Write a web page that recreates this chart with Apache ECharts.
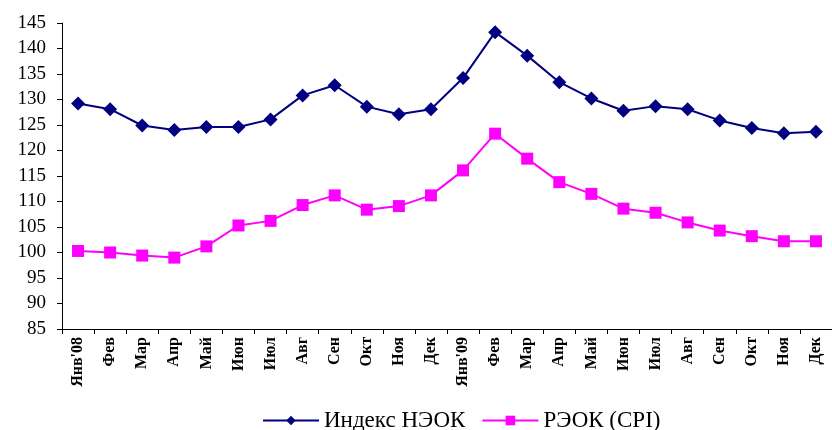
<!DOCTYPE html>
<html>
<head>
<meta charset="utf-8">
<script src="https://cdn.jsdelivr.net/npm/echarts@6/dist/echarts.min.js"></script>
<style>
  html, body { margin: 0; padding: 0; background: #fff; }
  #chart { width: 832px; height: 430px; }
</style>
</head>
<body>
<div id="chart"></div>
<script>
var months = ["Янв'08", "Фев", "Мар", "Апр", "Май", "Июн", "Июл", "Авг", "Сен", "Окт", "Ноя", "Дек",
              "Янв'09", "Фев", "Мар", "Апр", "Май", "Июн", "Июл", "Авг", "Сен", "Окт", "Ноя", "Дек"];
var neok = [129.2, 128.1, 124.9, 124.0, 124.6, 124.6, 126.1, 130.8, 132.8, 128.6, 127.1, 128.1,
            134.2, 143.2, 138.6, 133.4, 130.2, 127.8, 128.7, 128.1, 125.9, 124.4, 123.4, 123.7];
var reok = [100.3, 100.0, 99.4, 99.0, 101.2, 105.3, 106.2, 109.3, 111.2, 108.4, 109.1, 111.2,
            116.1, 123.3, 118.4, 113.8, 111.5, 108.6, 107.8, 105.9, 104.3, 103.2, 102.2, 102.2];

var chart = echarts.init(document.getElementById('chart'));

var option = {
    animation: false,
    backgroundColor: '#fff',
    grid: {
        left: 62,
        right: -9,
        top: 23,
        bottom: 101
    },
    legend: {
        top: 404,
        left: 257,
        itemWidth: 56,
        itemHeight: 12,
        itemGap: 16,
        textStyle: {
            fontFamily: 'Liberation Serif',
            fontSize: 23,
            color: '#000'
        },
        data: ['Индекс НЭОК', 'РЭОК (CPI)']
    },
    xAxis: {
        type: 'category',
        data: months,
        boundaryGap: true,
        axisLine: { lineStyle: { color: '#000', width: 1 } },
        axisTick: { show: true, alignWithLabel: false, length: 5, lineStyle: { color: '#000' } },
        axisLabel: {
            rotate: 90,
            interval: 0,
            fontFamily: 'Liberation Serif',
            fontWeight: 'bold',
            fontSize: 16,
            color: '#000',
            margin: 8
        },
        splitLine: { show: false }
    },
    yAxis: {
        type: 'value',
        min: 85,
        max: 145,
        interval: 5,
        axisLine: { show: true, lineStyle: { color: '#000', width: 1 } },
        axisTick: { show: true, length: 5, lineStyle: { color: '#000' } },
        axisLabel: {
            fontFamily: 'Liberation Serif',
            fontSize: 19,
            color: '#000',
            margin: 16
        },
        splitLine: { show: false }
    },
    series: [
        {
            name: 'Индекс НЭОК',
            type: 'line',
            data: neok,
            symbol: 'diamond',
            symbolSize: 14,
            itemStyle: { color: '#000080' },
            lineStyle: { color: '#000080', width: 2 }
        },
        {
            name: 'РЭОК (CPI)',
            type: 'line',
            data: reok,
            symbol: 'rect',
            symbolSize: 12,
            itemStyle: { color: '#ff00ff' },
            lineStyle: { color: '#ff00ff', width: 2 }
        }
    ]
};

chart.setOption(option);
</script>
</body>
</html>
